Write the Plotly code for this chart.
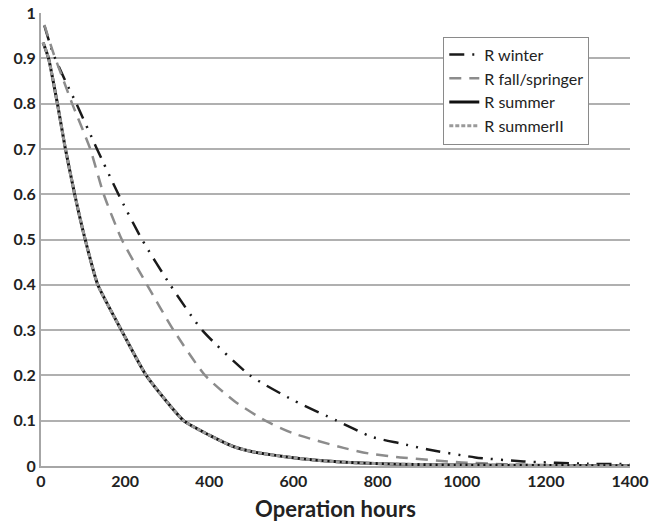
import plotly.graph_objects as go

# Reliability R over operation hours for each season
winter_h = [8, 29, 58, 84, 133, 184, 240, 307, 383, 497, 600, 703, 787, 854, 917, 1032, 1147, 1300, 1400]
winter_r = [0.972, 0.91, 0.85, 0.8, 0.7, 0.6, 0.5, 0.4, 0.3, 0.2, 0.145, 0.1, 0.064, 0.05, 0.037, 0.019, 0.01, 0.005, 0.004]

fall_h = [8, 30, 50, 74, 117, 149, 192, 252, 315, 390, 460, 533, 600, 719, 783, 854, 1000, 1100, 1200, 1400]
fall_r = [0.974, 0.91, 0.86, 0.8, 0.7, 0.6, 0.5, 0.4, 0.3, 0.2, 0.143, 0.1, 0.072, 0.04, 0.027, 0.019, 0.008, 0.004, 0.002, 0.001]

summer_h = [5, 18, 39, 58, 80, 105, 135, 191, 250, 339, 400, 457, 500, 576, 650, 735, 850, 1000, 1200, 1400]
summer_r = [0.935, 0.9, 0.8, 0.7, 0.6, 0.5, 0.4, 0.3, 0.2, 0.1, 0.068, 0.043, 0.032, 0.021, 0.013, 0.0075, 0.004, 0.002, 0.001, 0.0005]

summer2_h = summer_h
summer2_r = summer_r

x_ticks = [0, 200, 400, 600, 800, 1000, 1200, 1400]
y_ticks = [0, 0.1, 0.2, 0.3, 0.4, 0.5, 0.6, 0.7, 0.8, 0.9, 1]

fig = go.Figure()
fig.add_trace(go.Scatter(
    x=winter_h, y=winter_r, name="R winter", mode="lines",
    line=dict(color="#1a1a1a", width=2.5, dash="15px,8px,2px,8px,2px,8px",
              shape="spline", smoothing=0.6)))
fig.add_trace(go.Scatter(
    x=fall_h, y=fall_r, name="R fall/springer", mode="lines",
    line=dict(color="#8c8c8c", width=2.5, dash="12px,8px",
              shape="spline", smoothing=0.6)))
fig.add_trace(go.Scatter(
    x=summer_h, y=summer_r, name="R summer", mode="lines",
    line=dict(color="#111111", width=3, shape="spline", smoothing=0.5)))
fig.add_trace(go.Scatter(
    x=summer2_h, y=summer2_r, name="R summerII", mode="lines",
    line=dict(color="#9a9a9a", width=3, dash="4px,2px",
              shape="spline", smoothing=0.5)))

fig.update_layout(
    width=650, height=525,
    margin=dict(l=41, r=20, t=13, b=59, autoexpand=False),
    paper_bgcolor="white", plot_bgcolor="white",
    font=dict(family="Lato, 'Open Sans', sans-serif", color="#222222"),
    showlegend=True,
    legend=dict(
        x=0.683, y=0.948, xanchor="left", yanchor="top",
        bgcolor="white", bordercolor="#8a8a8a", borderwidth=1,
        font=dict(size=16, color="#222222"),
        itemwidth=30, tracegroupgap=0,
    ),
    xaxis=dict(
        range=[0, 1400], tickvals=x_ticks, showgrid=False,
        showline=True, linecolor="#a6a6a6", linewidth=2,
        zeroline=False, ticks="", automargin=False,
        tickfont=dict(size=16, weight="bold", color="#222222"),
        title=dict(text="Operation hours", standoff=12,
                   font=dict(size=22, weight="bold", color="#222222")),
    ),
    yaxis=dict(
        range=[0, 1], tickvals=y_ticks, showgrid=True,
        gridcolor="#b0b0b0", gridwidth=2,
        showline=True, linecolor="#a6a6a6", linewidth=2,
        zeroline=False, ticks="", automargin=False,
        tickfont=dict(size=16, weight="bold", color="#222222"),
    ),
)

fig.write_html("out.html")
